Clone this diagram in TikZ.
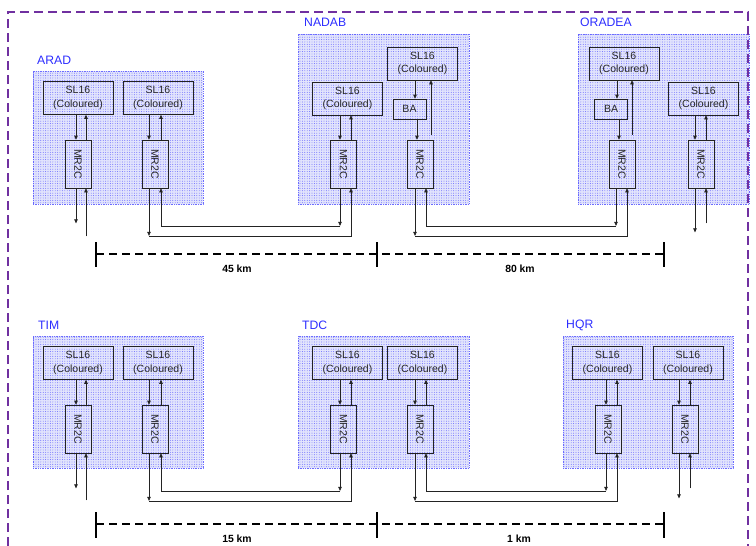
\documentclass[tikz,border=0pt]{standalone}
\usepackage{fontspec}
\setmainfont{Liberation Sans}
\usetikzlibrary{arrows.meta,patterns.meta,calc}
\definecolor{purp}{RGB}{112,48,160}
\definecolor{stblue}{RGB}{45,45,255}
\definecolor{stborder}{RGB}{110,110,255}
\definecolor{stfill}{RGB}{226,228,252}
\definecolor{lncol}{RGB}{35,35,35}
\newcommand\mylinks[4]{%
  \draw[arr] ($(#1.south -| #2.north)+(#3,0)$) -- ($(#2.north)+(#3,0)$);
  \draw[arr] ($(#2.north)+(#4,0)$) -- ($(#1.south -| #2.north)+(#4,0)$);
}
\begin{document}
\begin{tikzpicture}[x=1pt,y=-1pt,
  station/.style={draw=stborder, densely dotted, line width=0.7pt, fill=stfill,
    postaction={pattern={Dots[distance=2.4pt,radius=0.45pt]}, pattern color=blue!65},
    inner sep=0pt},
  stlabel/.style={anchor=west, inner sep=0pt, text=stblue, font=\fontsize{12.2}{14}\selectfont},
  sl/.style={draw=lncol, line width=0.7pt, minimum width=70pt, minimum height=33pt,
    inner sep=0pt, align=center, text=black!85, font=\fontsize{10.5}{13.4}\selectfont},
  ba/.style={sl, minimum width=33pt, minimum height=20pt},
  mr/.style={sl, minimum width=26pt, minimum height=48pt},
  arr/.style={draw=lncol, line width=0.7pt, -{Triangle[length=4pt,width=3.6pt]}},
  tick/.style={line width=2.2pt},
  scaleline/.style={line width=1.8pt, dash pattern=on 7.5pt off 5.5pt},
  km/.style={inner sep=0pt, font=\bfseries\fontsize{10.4}{12}\selectfont}]
\useasboundingbox (0,0) rectangle (756,546);

% ---------------- top row ----------------
\node[station, minimum width=170pt, minimum height=133pt] (arad) at (118,137.5) {};
\node[station, minimum width=171pt, minimum height=170pt] (nadab) at (383.5,119) {};
\node[station, minimum width=171pt, minimum height=170pt] (oradea) at (663.5,119) {};
\node[stlabel] (aradl) at (37,60) {ARAD};
\node[stlabel] (nadabl) at (304,22) {NADAB};
\node[stlabel] (oradeal) at (580,22) {ORADEA};

\node[sl] (a1s) at (78,98) {SL16\\(Coloured)};
\node[sl] (a2s) at (158,98) {SL16\\(Coloured)};
\node[mr] (a1m) at (78,164) {\rotatebox{-90}{MR2C}};
\node[mr] (a2m) at (155,164) {\rotatebox{-90}{MR2C}};

\node[sl] (n1s) at (347.5,98.5) {SL16\\(Coloured)};
\node[sl] (n2s) at (422.5,63.5) {SL16\\(Coloured)};
\node[ba] (nba) at (409.5,109) {BA};
\node[mr] (n1m) at (343.5,164) {\rotatebox{-90}{MR2C}};
\node[mr] (n2m) at (420,164) {\rotatebox{-90}{MR2C}};

\node[sl] (o1s) at (624,63.5) {SL16\\(Coloured)};
\node[ba] (oba) at (611,109) {BA};
\node[sl] (o2s) at (703.5,98.5) {SL16\\(Coloured)};
\node[mr] (o1m) at (622,164) {\rotatebox{-90}{MR2C}};
\node[mr] (o2m) at (701,164) {\rotatebox{-90}{MR2C}};

\mylinks{a1s}{a1m}{-2}{8}
\mylinks{a2s}{a2m}{-6}{6}
\mylinks{n1s}{n1m}{-3.5}{7.5}
\mylinks{o2s}{o2m}{-6}{5}
% NADAB with BA
\draw[arr] ($(n2s.south -| nba.north)+(5.5,0)$) -- ($(nba.north)+(5.5,0)$);
\draw[arr] ($(nba.south -| n2m.north)+(-3,0)$) -- ($(n2m.north)+(-3,0)$);
\draw[arr] ($(n2m.north)+(11,-5)$) -- ($(n2s.south -| n2m.north)+(11,0)$);
% ORADEA with BA
\draw[arr] ($(o1s.south -| oba.north)+(6,0)$) -- ($(oba.north)+(6,0)$);
\draw[arr] ($(oba.south -| o1m.north)+(-3,0)$) -- ($(o1m.north)+(-3,0)$);
\draw[arr] ($(o1m.north)+(10,-5)$) -- ($(o1s.south -| o1m.north)+(10,0)$);

% outside links, top
\draw[arr] ($(a1m.south)+(-2,0)$) -- ($(a1m.south)+(-2,35)$);
\draw[arr] ($(a1m.south)+(8,48)$) -- ($(a1m.south)+(8,0)$);

\coordinate (c1) at ($(a2m.south)+(-6,47.5)$);
\coordinate (c2) at ($(n1m.south)+(-3.5,37.5)$);
\draw[arr] ($(a2m.south)+(-6,0)$) -- (c1);
\draw[arr] (c1) -| ($(n1m.south)+(7.5,0)$);
\draw[arr] ($(n1m.south)+(-3.5,0)$) -- (c2);
\draw[arr] (c2) -| ($(a2m.south)+(6,0)$);

\coordinate (c3) at ($(n2m.south)+(-5,47.5)$);
\coordinate (c4) at ($(o1m.south)+(-6,37.5)$);
\draw[arr] ($(n2m.south)+(-5,0)$) -- (c3);
\draw[arr] (c3) -| ($(o1m.south)+(5,0)$);
\draw[arr] ($(o1m.south)+(-6,0)$) -- (c4);
\draw[arr] (c4) -| ($(n2m.south)+(6,0)$);

\draw[arr] ($(o2m.south)+(-6,0)$) -- ($(o2m.south)+(-6,44)$);
\draw[arr] ($(o2m.south)+(5,35)$) -- ($(o2m.south)+(5,0)$);

% scale top
\draw[scaleline] (96,254) -- (664,254);
\draw[tick] (96,242) -- (96,267);
\draw[tick] (377,242) -- (377,267);
\draw[tick] (664,242) -- (664,267);
\node[km] (k45) at (237,269) {45 km};
\node[km] (k80) at (520,269) {80 km};

% ---------------- bottom row ----------------
\node[station, minimum width=170pt, minimum height=132pt] (tim) at (118,402) {};
\node[station, minimum width=171pt, minimum height=132pt] (tdc) at (383.5,402) {};
\node[station, minimum width=170pt, minimum height=132pt] (hqr) at (648,402) {};
\node[stlabel] (timl) at (38,325) {TIM};
\node[stlabel] (tdcl) at (302,325) {TDC};
\node[stlabel] (hqrl) at (566,325) {HQR};

\node[sl] (t1s) at (78,363) {SL16\\(Coloured)};
\node[sl] (t2s) at (158,363) {SL16\\(Coloured)};
\node[mr] (t1m) at (78,429) {\rotatebox{-90}{MR2C}};
\node[mr] (t2m) at (155,429) {\rotatebox{-90}{MR2C}};

\node[sl] (d1s) at (347.5,363) {SL16\\(Coloured)};
\node[sl] (d2s) at (422.5,363) {SL16\\(Coloured)};
\node[mr] (d1m) at (343.5,429) {\rotatebox{-90}{MR2C}};
\node[mr] (d2m) at (420,429) {\rotatebox{-90}{MR2C}};

\node[sl] (h1s) at (607.5,363) {SL16\\(Coloured)};
\node[sl] (h2s) at (688,363) {SL16\\(Coloured)};
\node[mr] (h1m) at (608,429) {\rotatebox{-90}{MR2C}};
\node[mr] (h2m) at (685,429) {\rotatebox{-90}{MR2C}};

\mylinks{t1s}{t1m}{-2}{8}
\mylinks{t2s}{t2m}{-6}{6}
\mylinks{d1s}{d1m}{-3.5}{7.5}
\mylinks{d2s}{d2m}{-5}{6}
\mylinks{h1s}{h1m}{-2}{9}
\mylinks{h2s}{h2m}{-6}{5}

\draw[arr] ($(t1m.south)+(-2,0)$) -- ($(t1m.south)+(-2,35)$);
\draw[arr] ($(t1m.south)+(8,47)$) -- ($(t1m.south)+(8,0)$);

\coordinate (c5) at ($(t2m.south)+(-6,47.5)$);
\coordinate (c6) at ($(d1m.south)+(-3.5,37.5)$);
\draw[arr] ($(t2m.south)+(-6,0)$) -- (c5);
\draw[arr] (c5) -| ($(d1m.south)+(7.5,0)$);
\draw[arr] ($(d1m.south)+(-3.5,0)$) -- (c6);
\draw[arr] (c6) -| ($(t2m.south)+(6,0)$);

\coordinate (c7) at ($(d2m.south)+(-5,47.5)$);
\coordinate (c8) at ($(h1m.south)+(-2,37.5)$);
\draw[arr] ($(d2m.south)+(-5,0)$) -- (c7);
\draw[arr] (c7) -| ($(h1m.south)+(9,0)$);
\draw[arr] ($(h1m.south)+(-2,0)$) -- (c8);
\draw[arr] (c8) -| ($(d2m.south)+(6,0)$);

\draw[arr] ($(h2m.south)+(-6,0)$) -- ($(h2m.south)+(-6,45)$);
\draw[arr] ($(h2m.south)+(5,35)$) -- ($(h2m.south)+(5,0)$);

% scale bottom
\draw[scaleline] (96,524) -- (664,524);
\draw[tick] (96,512) -- (96,538);
\draw[tick] (377,512) -- (377,538);
\draw[tick] (664,512) -- (664,538);
\node[km] (k15) at (237,539) {15 km};
\node[km] (k1) at (519,539) {1 km};

% frame
\draw[purp, line width=2pt, dash pattern=on 9pt off 5pt] (8,546) -- (8,12) -- (748,12) -- (748,546);
\end{tikzpicture}
\end{document}
